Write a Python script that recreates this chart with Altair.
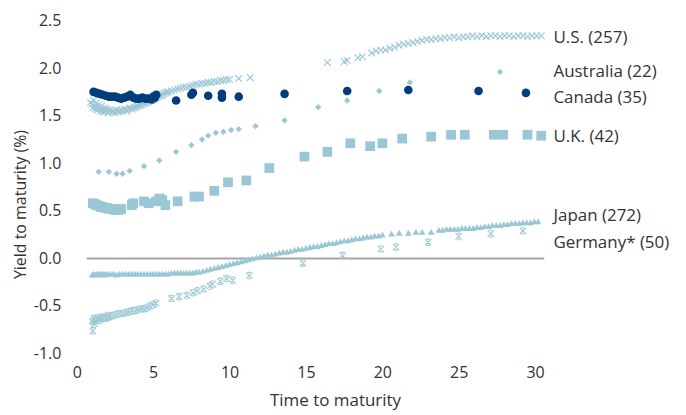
import altair as alt
import pandas as pd

LIGHT = "#9AC7D6"
NAVY = "#003D7C"

# ---- data (x = years to maturity, y = yield %) ----
us_x = [0.9, 1.0, 1.05, 1.1, 1.15, 1.2, 1.25, 1.3, 1.35, 1.4, 1.5, 1.55, 1.6, 1.7, 1.75, 1.8, 1.9, 2.0, 2.05,
        2.1, 2.2, 2.3, 2.4, 2.5, 2.6, 2.7, 2.8, 2.9, 3.0, 3.1, 3.2, 3.3, 3.4, 3.5, 3.6, 3.7, 3.8, 3.9,
        4.0, 4.1, 4.2, 4.3, 4.4, 4.5, 4.6, 4.7, 4.8, 4.9, 5.0, 5.1, 5.2, 5.3, 5.4, 5.5, 5.6, 5.7, 5.8,
        5.9, 6.0, 6.2, 6.4, 6.6, 6.8, 7.0, 7.2, 7.4, 7.6, 7.8, 8.0, 8.2, 8.4, 8.6, 8.8, 9.0, 9.2,
        9.4, 9.6, 9.8, 10.0, 10.6, 11.35,
        16.4, 17.5, 17.7, 18.4, 18.7, 19.3, 19.6, 19.9, 20.2, 20.5, 20.8, 21.1, 21.4, 21.7, 22.0,
        22.3, 22.6, 22.9, 23.2, 23.5, 23.8, 24.1, 24.4, 24.7, 25.0, 25.3, 25.6, 25.9, 26.2, 26.5,
        26.8, 27.1, 27.4, 27.7, 28.0, 28.3, 28.6, 28.9, 29.2, 29.5, 29.8, 30.1, 30.4]
us_y = [1.64, 1.62, 1.58, 1.66, 1.60, 1.57, 1.63, 1.59, 1.56, 1.61, 1.58, 1.55, 1.60, 1.56, 1.54, 1.58, 1.55, 1.57, 1.53,
        1.55, 1.56, 1.54, 1.55, 1.53, 1.56, 1.54, 1.55, 1.56, 1.55, 1.57, 1.56, 1.55, 1.57, 1.58, 1.57, 1.58, 1.59, 1.60,
        1.60, 1.61, 1.61, 1.62, 1.63, 1.63, 1.64, 1.65, 1.66, 1.66, 1.67, 1.68, 1.69, 1.70, 1.71, 1.71, 1.72, 1.73, 1.74,
        1.75, 1.75, 1.76, 1.77, 1.78, 1.79, 1.80, 1.80, 1.81, 1.82, 1.83, 1.83, 1.84, 1.84, 1.85, 1.85, 1.86, 1.86,
        1.87, 1.87, 1.88, 1.88, 1.89, 1.90,
        2.06, 2.07, 2.08, 2.11, 2.12, 2.16, 2.18, 2.19, 2.19, 2.21, 2.22, 2.24, 2.25, 2.26, 2.27,
        2.28, 2.29, 2.30, 2.30, 2.31, 2.31, 2.32, 2.32, 2.33, 2.32, 2.33, 2.33, 2.34, 2.33, 2.34,
        2.33, 2.34, 2.34, 2.33, 2.34, 2.34, 2.33, 2.34, 2.34, 2.33, 2.34, 2.34, 2.34]

aus_x = [1.43, 2.1, 2.6, 3.0, 3.46, 4.4, 5.4, 6.5, 7.5, 8.2, 8.6, 9.1, 9.6, 10.1, 10.6, 11.7, 13.6, 15.8,
         17.7, 19.8, 21.8, 27.7]
aus_y = [0.91, 0.91, 0.89, 0.89, 0.92, 0.97, 1.03, 1.12, 1.19, 1.25, 1.29, 1.32, 1.33, 1.35, 1.36, 1.39, 1.45, 1.59,
         1.66, 1.76, 1.85, 1.96]

can_x = [1.1, 1.3, 1.5, 1.7, 1.9, 2.1, 2.3, 2.5, 2.7, 2.9, 3.1, 3.3, 3.5, 3.7, 3.9, 4.1, 4.3, 4.5, 4.7, 4.9,
         5.0, 5.1, 5.2, 6.5, 7.5, 7.6, 8.6, 9.5, 9.5, 10.6, 13.6, 17.7, 21.7, 26.3, 29.4]
can_y = [1.75, 1.74, 1.73, 1.72, 1.71, 1.70, 1.70, 1.70, 1.69, 1.68, 1.69, 1.70, 1.72, 1.69, 1.68, 1.68, 1.69, 1.68, 1.68, 1.67,
         1.70, 1.69, 1.72, 1.66, 1.72, 1.74, 1.71, 1.73, 1.69, 1.70, 1.73, 1.76, 1.77, 1.76, 1.74]

uk_x = [1.05, 1.2, 1.3, 1.5, 1.6, 1.7, 1.9, 2.0, 2.1, 2.3, 2.5, 2.7, 2.9, 3.6, 3.7, 4.4, 4.7, 5.2, 5.4, 5.5,
        5.6, 5.8, 6.6, 7.7, 8.0, 9.0, 9.9, 11.1, 12.6, 14.9, 16.4, 17.9, 19.2, 20.0, 21.3, 23.2, 24.5, 25.4,
        27.3, 27.9, 29.5, 30.4]
uk_y = [0.58, 0.57, 0.56, 0.55, 0.54, 0.54, 0.53, 0.53, 0.52, 0.52, 0.51, 0.51, 0.52, 0.56, 0.58, 0.60, 0.58, 0.60, 0.63, 0.62,
        0.61, 0.56, 0.60, 0.65, 0.65, 0.71, 0.80, 0.82, 0.95, 1.07, 1.12, 1.21, 1.18, 1.21, 1.26, 1.28, 1.30, 1.30,
        1.30, 1.30, 1.30, 1.29]

jp_x = [1.0, 1.1, 1.2, 1.3, 1.4, 1.5, 1.6, 1.7, 1.8, 1.9, 2.0, 2.2, 2.4, 2.6, 2.8, 3.0, 3.2, 3.4, 3.6, 3.8,
        4.0, 4.2, 4.4, 4.6, 4.8, 5.0, 5.2, 5.4, 5.6, 5.8, 6.0, 6.2, 6.4, 6.6, 6.8, 7.0, 7.2, 7.4, 7.6, 7.8,
        8.0, 8.25, 8.5, 8.75, 9.0, 9.25, 9.5, 9.75, 10.0, 10.25, 10.5, 10.75, 11.0, 11.25, 11.5, 11.75, 12.0,
        12.25, 12.5, 12.75, 13.0, 13.25, 13.5, 13.75, 14.0, 14.25, 14.5, 14.75, 15.0, 15.25, 15.5, 15.75,
        16.0, 16.25, 16.5, 16.75, 17.0, 17.25, 17.5, 17.75, 18.0, 18.25, 18.5, 18.75, 19.0, 19.25, 19.5,
        19.75, 20.0, 20.6, 21.1, 21.7, 22.2, 22.6, 23.2,
        23.7, 23.95, 24.2, 24.45, 24.7, 24.95, 25.2, 25.45, 25.7, 25.95, 26.2, 26.45, 26.7, 26.95, 27.2,
        27.45, 27.7, 27.95, 28.2, 28.45, 28.7, 28.95, 29.2, 29.45, 29.7, 29.95, 30.2]
jp_y = [-0.17, -0.16, -0.17, -0.16, -0.16, -0.17, -0.16, -0.16, -0.17, -0.16, -0.16, -0.16, -0.16, -0.17, -0.16, -0.16, -0.16, -0.16, -0.16, -0.16,
        -0.16, -0.16, -0.16, -0.16, -0.16, -0.16, -0.16, -0.16, -0.16, -0.16, -0.16, -0.15, -0.15, -0.15, -0.15, -0.15, -0.15, -0.15, -0.15, -0.14,
        -0.14, -0.13, -0.12, -0.11, -0.10, -0.09, -0.08, -0.07, -0.06, -0.05, -0.04, -0.03, -0.02, -0.01, 0.00, 0.01, 0.02,
        0.03, 0.04, 0.04, 0.05, 0.06, 0.07, 0.07, 0.08, 0.09, 0.10, 0.10, 0.11, 0.12, 0.13, 0.13,
        0.14, 0.15, 0.16, 0.16, 0.17, 0.18, 0.19, 0.19, 0.20, 0.21, 0.21, 0.22, 0.23, 0.23, 0.24,
        0.24, 0.25, 0.26, 0.27, 0.27, 0.28, 0.28, 0.28,
        0.30, 0.30, 0.31, 0.31, 0.31, 0.31, 0.32, 0.32, 0.32, 0.32, 0.33, 0.33, 0.34, 0.34, 0.35,
        0.35, 0.35, 0.36, 0.36, 0.37, 0.37, 0.37, 0.38, 0.38, 0.38, 0.39, 0.39]

de_x = [1.0, 1.05, 1.1, 1.15, 1.2, 1.3, 1.4, 1.5, 1.6, 1.7, 1.8, 1.9, 2.0, 2.1, 2.2, 2.4, 2.6, 2.8, 3.0, 3.2,
        3.4, 3.6, 3.8, 4.0, 4.2, 4.4, 4.6, 4.8, 5.0, 5.2, 6.2, 6.7, 7.2, 7.6, 7.9, 8.3, 8.7, 8.9, 9.4, 9.8,
        10.2, 11.3, 14.8, 17.4, 19.9, 20.9, 23.0, 25.0, 27.1, 29.2]
de_y = [-0.66, -0.76, -0.63, -0.69, -0.66, -0.64, -0.62, -0.65, -0.62, -0.63, -0.61, -0.63, -0.62, -0.60, -0.61, -0.60, -0.59, -0.58, -0.58, -0.57,
        -0.56, -0.55, -0.55, -0.54, -0.53, -0.53, -0.52, -0.50, -0.49, -0.47, -0.42, -0.40, -0.39, -0.36, -0.34, -0.32, -0.29, -0.27, -0.24, -0.21,
        -0.23, -0.18, -0.05, 0.03, 0.10, 0.12, 0.17, 0.23, 0.26, 0.29]

label_text = ["U.S. (257)", "Australia (22)", "Canada (35)", "U.K. (42)", "Japan (272)", "Germany* (50)"]
label_y = [2.32, 1.96, 1.69, 1.28, 0.45, 0.16]
label_x = [31.2] * 6

x_ticks = [0, 5, 10, 15, 20, 25, 30]
y_ticks = [-1.0, -0.5, 0.0, 0.5, 1.0, 1.5, 2.0, 2.5]

FONT = "Open Sans"
TXT = "#333333"

xs = alt.Scale(domain=[0, 31], nice=False, zero=False)
ys = alt.Scale(domain=[-1, 2.5], nice=False, zero=False)

xaxis = alt.Axis(values=x_ticks, title="Time to maturity", domain=False, ticks=False, grid=False,
                 labelFlush=False, labelFontSize=16, labelPadding=11, labelFont=FONT, labelColor=TXT,
                 titleFont=FONT, titleFontSize=17, titleFontWeight="normal", titleColor=TXT,
                 titleX=259, titleY=39, titleBaseline="top", titleAlign="center")
yaxis = alt.Axis(values=y_ticks, title="Yield to maturity (%)", domain=False, ticks=False, grid=False,
                 labelFlush=False, labelFontSize=16, labelPadding=16, labelFont=FONT, labelColor=TXT,
                 labelExpr="replace(format(datum.value, '.1f'), '\u2212', '-')",
                 titleFont=FONT, titleFontSize=16, titleFontWeight="normal", titleColor=TXT,
                 titleX=-56, titleY=184, titleBaseline="middle", titleAlign="center")

XPATH = "M-1,-1L1,1M-1,1L1,-1"
STARPATH = "M-1,-1L1,1M-1,1L1,-1M-0.5,-1L0.5,-1M-0.5,1L0.5,1"


def df(x, y):
    return pd.DataFrame({"x": x, "y": y})


zero = alt.Chart(pd.DataFrame({"a": [0]})).mark_rule(color="#A6A6A6", strokeWidth=2).encode(
    x=alt.datum(0.65, scale=xs, axis=xaxis), x2=alt.datum(30.6), y=alt.datum(0, scale=ys, axis=yaxis))


def pts(d, shape, size, color, filled=True, sw=1.0):
    if filled:
        m = alt.Chart(d).mark_point(shape=shape, size=size, filled=True, fill=color, opacity=1, strokeWidth=0)
    else:
        m = alt.Chart(d).mark_point(shape=shape, size=size, filled=False, stroke=color, opacity=1, strokeWidth=sw)
    return m.encode(x=alt.X("x:Q", scale=xs, axis=xaxis), y=alt.Y("y:Q", scale=ys, axis=yaxis))


layers = [
    zero,
    pts(df(de_x, de_y), STARPATH, 40, LIGHT, filled=False, sw=1.1),
    pts(df(jp_x, jp_y), "triangle-up", 45, LIGHT),
    pts(df(uk_x, uk_y), "square", 95, LIGHT),
    pts(df(aus_x, aus_y), "diamond", 40, LIGHT),
    pts(df(us_x, us_y), XPATH, 45, LIGHT, filled=False, sw=1.1),
    pts(df(can_x, can_y), "circle", 75, NAVY),
]

labels = alt.Chart(pd.DataFrame({"x": label_x, "y": label_y, "t": label_text})).mark_text(
    align="left", baseline="middle", font=FONT, fontSize=17, color=TXT
).encode(x=alt.X("x:Q", scale=xs), y=alt.Y("y:Q", scale=ys), text="t:N")

chart = alt.layer(*layers, labels).properties(
    width=475, height=334,
    autosize=alt.AutoSizeParams(type="none"),
    padding={"left": 69, "top": 12, "right": 128, "bottom": 60},
).configure_view(stroke=None)

chart.save("out.html", embed_options={"renderer": "svg", "actions": False})
